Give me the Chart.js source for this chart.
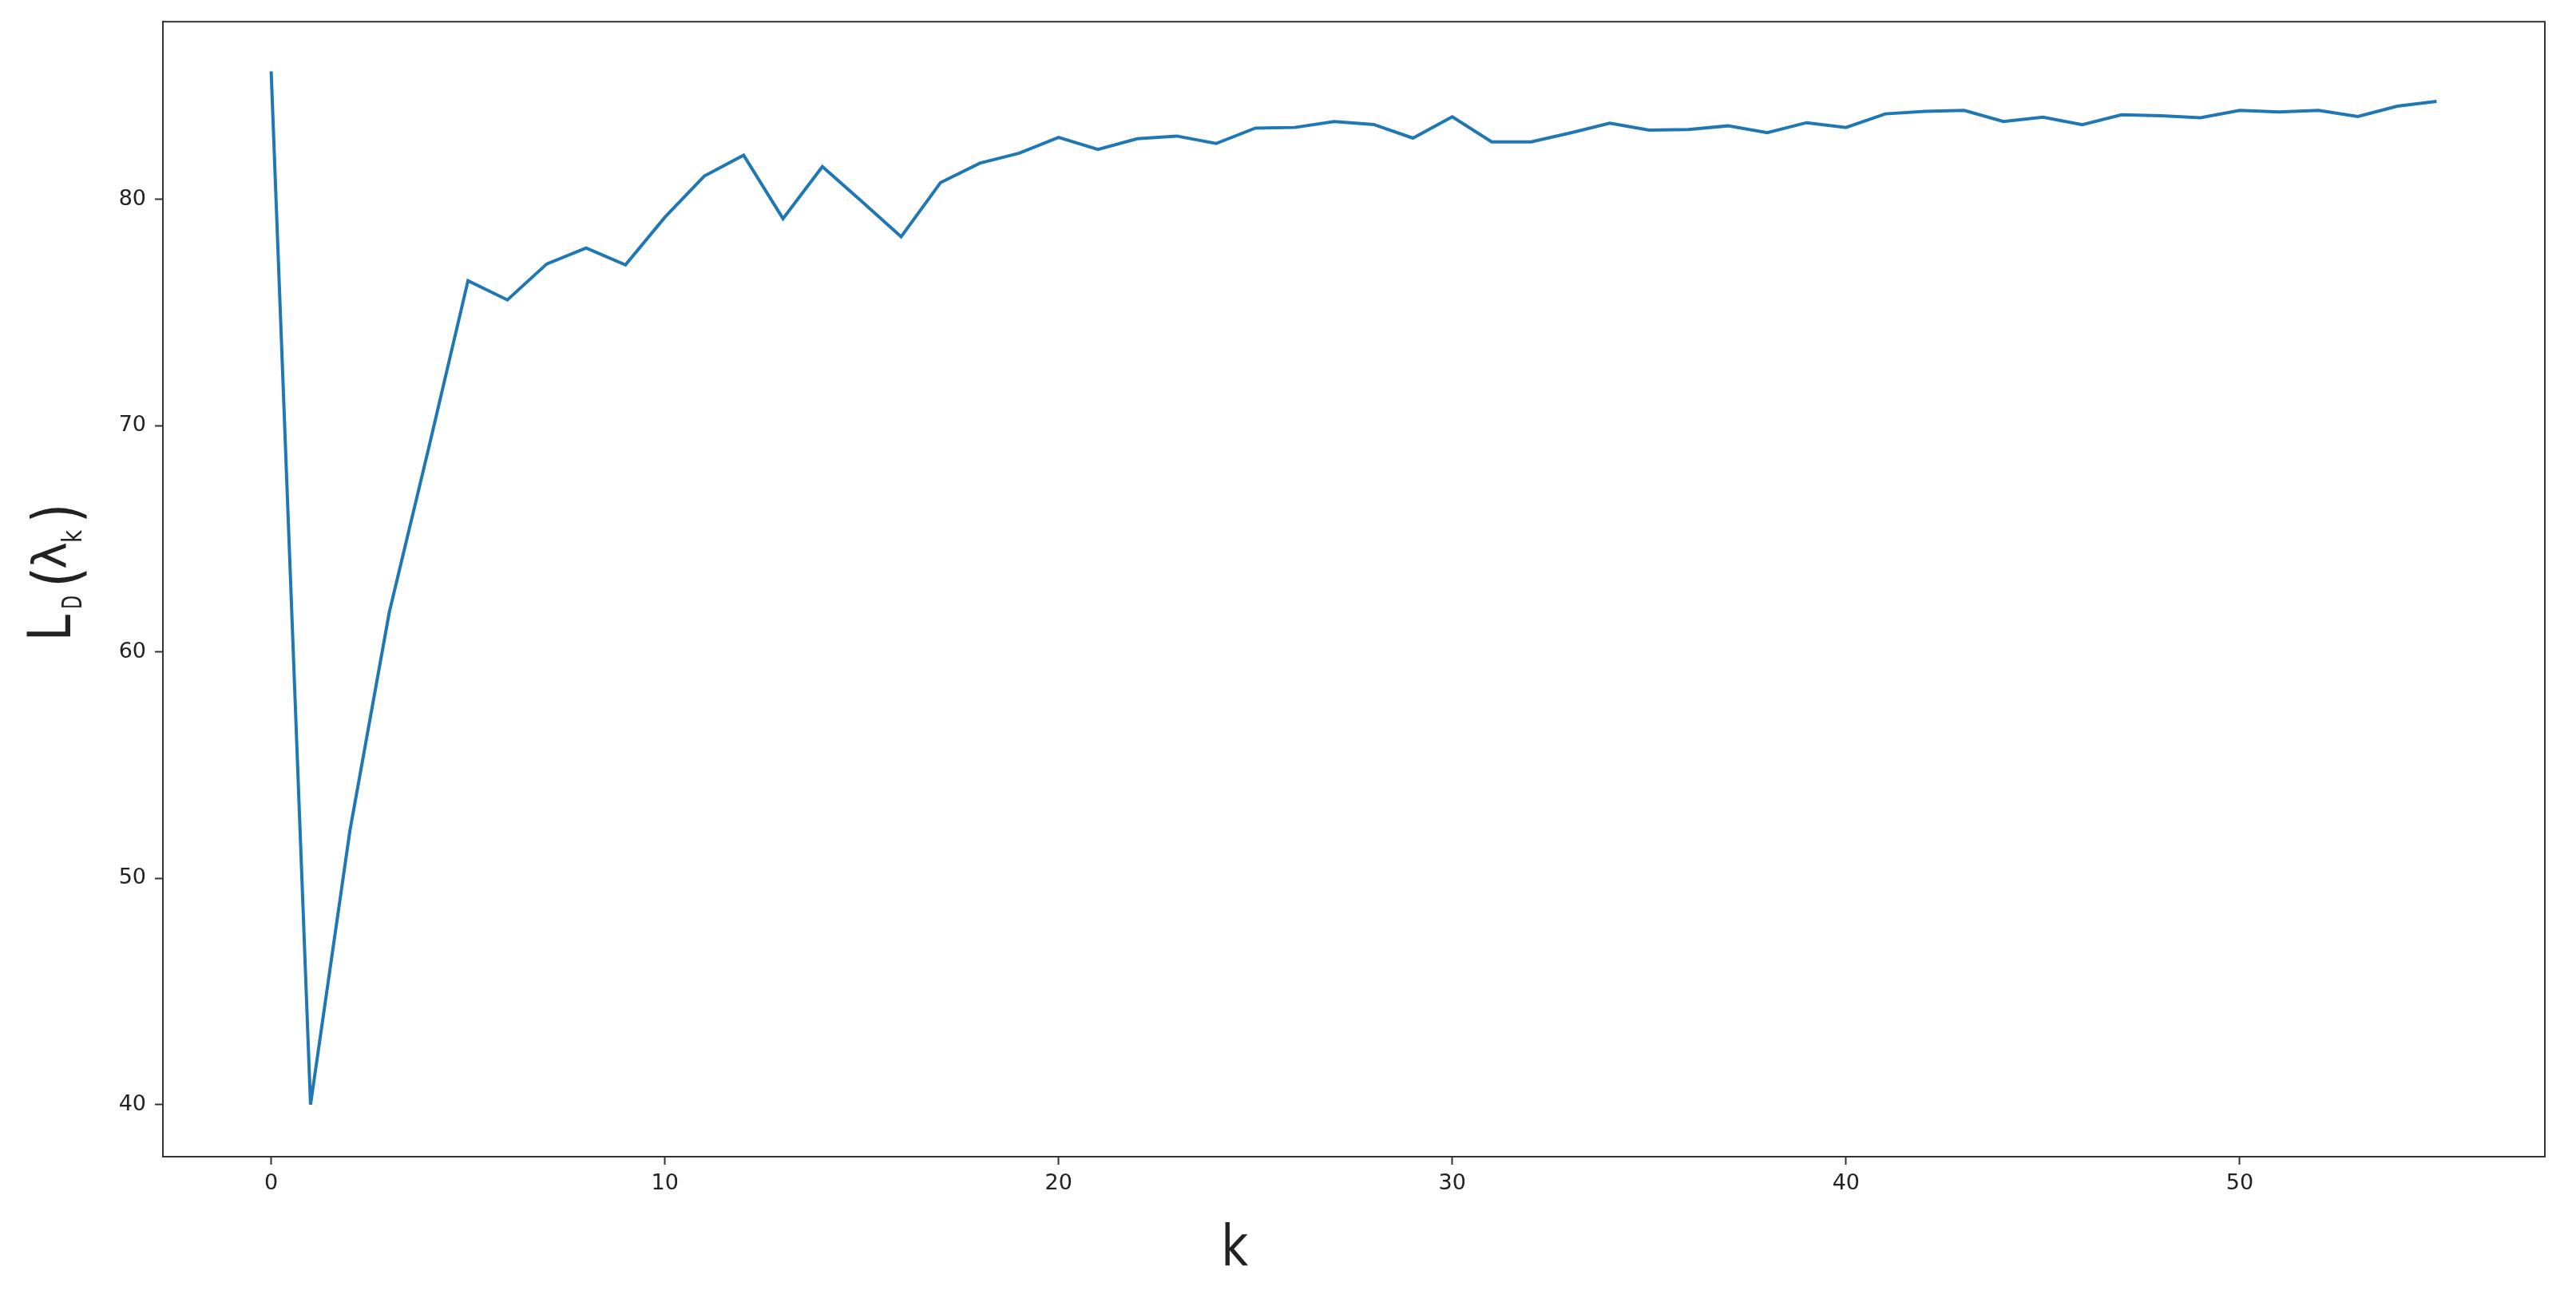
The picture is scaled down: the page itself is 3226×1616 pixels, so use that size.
<!DOCTYPE html>
<html>
<head>
<meta charset="utf-8">
<script src="https://cdn.jsdelivr.net/npm/chart.js@4.4.1/dist/chart.umd.min.js"></script>
<style>
  html, body { margin: 0; padding: 0; background: #fff; }
  #wrap { width: 3226px; height: 1616px; position: relative; }
</style>
</head>
<body>
<div id="wrap"><canvas id="myChart"></canvas></div>
<script>
// k index and L_D(lambda_k) values
const kValues = [0, 1, 2, 3, 4, 5, 6, 7, 8, 9, 10, 11, 12, 13, 14, 15, 16, 17, 18, 19,
  20, 21, 22, 23, 24, 25, 26, 27, 28, 29, 30, 31, 32, 33, 34, 35, 36, 37, 38, 39,
  40, 41, 42, 43, 44, 45, 46, 47, 48, 49, 50, 51, 52, 53, 54, 55];
const ldValues = [85.65, 40.0, 52.1, 61.75, 69.0, 76.4, 75.55, 77.14, 77.84, 77.1,
  79.2, 81.02, 81.94, 79.14, 81.44, 79.9, 78.34, 80.73, 81.59, 82.03,
  82.73, 82.2, 82.67, 82.79, 82.46, 83.14, 83.17, 83.43, 83.3, 82.7,
  83.64, 82.53, 82.53, 82.93, 83.36, 83.05, 83.08, 83.24, 82.94, 83.38,
  83.17, 83.77, 83.88, 83.92, 83.43, 83.62, 83.29, 83.73, 83.69, 83.6,
  83.92, 83.85, 83.92, 83.65, 84.11, 84.32];

const xTicks = [0, 10, 20, 30, 40, 50];
const yTicks = [40, 50, 60, 70, 80];

const points = kValues.map((k, i) => ({ x: k, y: ldValues[i] }));

const axisColor = "#333333";
const textColor = "#222222";

// frame on all four sides plus the two axis titles
const decorations = {
  id: "decorations",
  afterDraw(chart) {
    const { ctx, chartArea } = chart;
    ctx.save();
    ctx.strokeStyle = axisColor;
    ctx.lineWidth = 2;
    ctx.strokeRect(chartArea.left, chartArea.top,
      chartArea.right - chartArea.left, chartArea.bottom - chartArea.top);

    ctx.fillStyle = textColor;
    ctx.textBaseline = "alphabetic";
    ctx.textAlign = "left";

    // x title
    ctx.font = "72px 'DejaVu Sans'";
    const kx = chartArea.left + 0.45 * (chartArea.right - chartArea.left);
    ctx.textAlign = "center";
    ctx.fillText("k", kx, 1585, 34);

    // y title: L_D(λ_k), drawn rotated
    ctx.textAlign = "left";
    ctx.translate(88, 803);
    ctx.rotate(-Math.PI / 2);
    const pieces = [
      { t: "L", u: 0, v: 0, size: 74, w: 33 },
      { t: "D", u: 40, v: 14, size: 34, w: 17 },
      { t: "(", u: 67, v: 10, size: 80, w: 26 },
      { t: "λ", u: 90, v: -5, size: 58, w: 34 },
      { t: "k", u: 123, v: 14, size: 33, w: 16 },
      { t: ")", u: 148, v: 10, size: 80, w: 24 }
    ];
    pieces.forEach(p => {
      ctx.font = p.size + "px 'DejaVu Sans'";
      ctx.fillText(p.t, p.u, p.v, p.w);
    });
    ctx.restore();
  }
};

const config = {
  type: "line",
  data: {
    datasets: [
      {
        label: "L_D",
        data: points,
        borderColor: "#1f77b4",
        backgroundColor: "#1f77b4",
        borderWidth: 4,
        pointRadius: 0,
        tension: 0,
        fill: false
      }
    ]
  },
  options: {
    responsive: true,
    maintainAspectRatio: false,
    devicePixelRatio: 1,
    animation: false,
    layout: {
      padding: { top: 27, right: 39, left: 0, bottom: 0 }
    },
    plugins: {
      legend: { display: false },
      tooltip: { enabled: false },
      title: { display: false }
    },
    scales: {
      x: {
        type: "linear",
        min: -2.75,
        max: 57.75,
        afterBuildTicks: (scale) => {
          scale.ticks = xTicks.map(v => ({ value: v }));
        },
        afterFit: (scale) => { scale.height = 167; },
        grid: {
          drawOnChartArea: false,
          drawTicks: true,
          tickLength: 10,
          tickWidth: 2,
          tickColor: axisColor
        },
        border: { display: true, color: axisColor, width: 2 },
        ticks: {
          color: textColor,
          padding: 8,
          maxRotation: 0,
          font: { family: "'DejaVu Sans'", size: 27 }
        }
      },
      y: {
        type: "linear",
        min: 37.7,
        max: 87.84,
        afterBuildTicks: (scale) => {
          scale.ticks = yTicks.map(v => ({ value: v }));
        },
        afterFit: (scale) => { scale.width = 204; },
        grid: {
          drawOnChartArea: false,
          drawTicks: true,
          tickLength: 10,
          tickWidth: 2,
          tickColor: axisColor
        },
        border: { display: true, color: axisColor, width: 2 },
        ticks: {
          color: textColor,
          padding: 11,
          font: { family: "'DejaVu Sans'", size: 27 }
        }
      }
    }
  },
  plugins: [decorations]
};

const ctx = document.getElementById("myChart").getContext("2d");
new Chart(ctx, config);
</script>
</body>
</html>
